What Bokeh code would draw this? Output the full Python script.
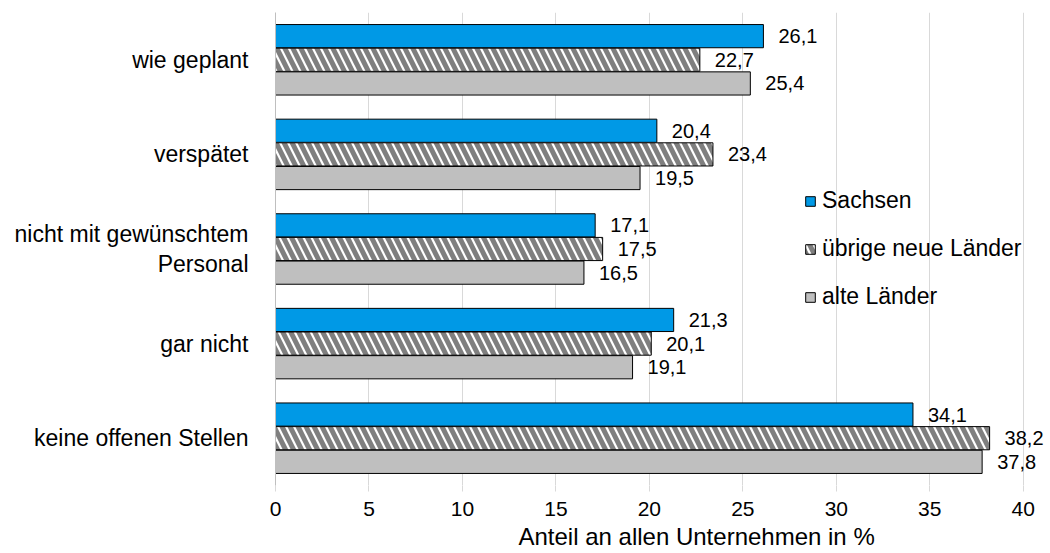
from bokeh.plotting import figure
from bokeh.models import ColumnDataSource, FactorRange, Range1d, Legend, LegendItem, FixedTicker, Title
from bokeh.transform import dodge
from bokeh.core.properties import value
from bokeh.embed import file_html
from bokeh.resources import INLINE

categories = ["wie geplant", "verspätet", "nicht mit gewünschtem\nPersonal", "gar nicht", "keine offenen Stellen"]
series_names = ["Sachsen", "übrige neue Länder", "alte Länder"]
sachsen = [26.1, 20.4, 17.1, 21.3, 34.1]
uebrige = [22.7, 23.4, 17.5, 20.1, 38.2]
alte = [25.4, 19.5, 16.5, 19.1, 37.8]
x_ticks = [0, 5, 10, 15, 20, 25, 30, 35, 40]
x_title = "Anteil an allen Unternehmen in %"

FONT = "Liberation Sans"
fmt = lambda v: f"{v:.1f}".replace(".", ",")

src = ColumnDataSource(dict(
    cat=categories,
    s=sachsen, u=uebrige, a=alte,
    sl=[fmt(v) for v in sachsen],
    ul=[fmt(v) for v in uebrige],
    al=[fmt(v) for v in alte],
))

factors = list(reversed(categories))
p = figure(
    width=1050, height=553,
    y_range=FactorRange(factors=factors, range_padding=0),
    x_range=Range1d(0, 41.35),
    output_backend="svg", toolbar_location=None,
    min_border_left=275, min_border_right=2, min_border_top=12, min_border_bottom=68,
)
p.outline_line_color = None

H = 0.245
D = 0.25
r1 = p.hbar(y=dodge("cat", D, range=p.y_range), right="s", left=0, height=H, source=src,
            fill_color="#0099E6", line_color="black", line_width=1)
r2 = p.hbar(y=dodge("cat", 0, range=p.y_range), right="u", left=0, height=H, source=src,
            fill_color="white", line_color="black", line_width=1,
            hatch_pattern="\\", hatch_color="#7f7f7f", hatch_weight=5, hatch_scale=16)
r3 = p.hbar(y=dodge("cat", -D, range=p.y_range), right="a", left=0, height=H, source=src,
            fill_color="#BFBFBF", line_color="black", line_width=1)

for col, lab, off in [("s", "sl", D), ("u", "ul", 0), ("a", "al", -D)]:
    p.text(x=col, y=dodge("cat", off, range=p.y_range), text=lab, source=src,
           x_offset=15, text_baseline="middle", text_align="left",
           text_font=value(FONT), text_font_size="20px", text_color="black")

# x axis
p.xaxis.ticker = FixedTicker(ticks=x_ticks)
p.xaxis.axis_line_color = None
p.xaxis.major_tick_line_color = "#d9d9d9"
p.xaxis.major_tick_out = 6
p.xaxis.major_tick_in = 0
p.xaxis.minor_tick_line_color = None
p.xaxis.major_label_text_font = FONT
p.xaxis.major_label_text_font_size = "21px"
p.xaxis.major_label_text_color = "black"
p.xaxis.major_label_standoff = 10

p.add_layout(Title(text=x_title, align="left", offset=243, standoff=5,
                   text_font=FONT, text_font_size="24px", text_font_style="normal",
                   text_color="black"), "below")

# y axis
p.yaxis.axis_line_color = "#bfbfbf"
p.yaxis.major_tick_line_color = None
p.yaxis.minor_tick_line_color = None
p.yaxis.major_label_text_font = FONT
p.yaxis.major_label_text_font_size = "23px"
p.yaxis.major_label_text_color = "black"
p.yaxis.major_label_text_line_height = 1.17
p.yaxis.major_label_standoff = 21

p.xgrid.grid_line_color = "#d9d9d9"
p.ygrid.grid_line_color = None

legend = Legend(
    items=[LegendItem(label=series_names[0], renderers=[r1]),
           LegendItem(label=series_names[1], renderers=[r2]),
           LegendItem(label=series_names[2], renderers=[r3])],
    location=(529, 175), orientation="vertical",
    glyph_width=12, glyph_height=12, label_height=24, spacing=21,
    padding=0, margin=0, border_line_color=None, background_fill_alpha=0,
    label_text_font=FONT, label_text_font_size="23px", label_text_color="black",
    label_standoff=6,
)
p.add_layout(legend, "center")

open("out.html", "w").write(file_html(p, INLINE))
